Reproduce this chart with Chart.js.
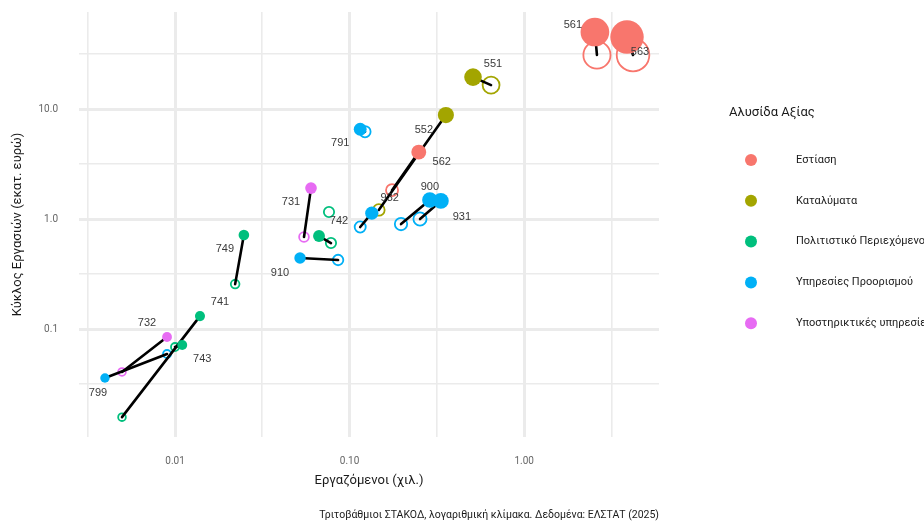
<!DOCTYPE html>
<html>
<head>
<meta charset="utf-8">
<script src="https://cdn.jsdelivr.net/npm/chart.js@4.4.1/dist/chart.umd.min.js"></script>
<style>
    html, body { margin: 0; padding: 0; background: #fff; }
    #wrap { width: 924px; height: 521px; position: relative; }
</style>
</head>
<body>
<div id="wrap"><canvas id="chart"></canvas></div>
<script>
// value chains (legend order) and their ggplot colours
const categories = ['Εστίαση', 'Καταλύματα', 'Πολιτιστικό Περιεχόμενο', 'Υπηρεσίες Προορισμού', 'Υποστηρικτικές υπηρεσίες'];
const categoryColors = ['#F8766D', '#A3A500', '#00BF7D', '#00B0F6', '#E76BF3'];

// 3-digit codes, one per pair of points ('' = point without a label)
const codes = ['561', '563', '551', '552', '562', '791', '932', '900', '931', '742', '', '731', '749', '910', '741', '732', '743', '799'];
const codeGroup = [0, 0, 1, 1, 0, 3, 3, 3, 3, 2, 2, 4, 2, 3, 2, 4, 2, 3];

// filled points (recent year): employees (thousands), turnover (million euro)
const employeesNew = [2.54, 3.88, 0.509, 0.356, 0.249, 0.115, 0.134, 0.288, 0.333, null, 0.0668, 0.0601, 0.0248, 0.052, 0.0139, 0.0090, 0.011, 0.00397];
const turnoverNew = [50.1, 45.1, 19.5, 8.81, 4.06, 6.54, 1.13, 1.49, 1.46, null, 0.70, 1.91, 0.716, 0.442, 0.131, 0.0846, 0.0716, 0.0359];
// open points (earlier year)
const employeesOld = [2.61, 4.20, 0.646, 0.147, 0.175, 0.1225, 0.115, 0.197, 0.253, 0.0762, 0.0782, 0.0548, 0.0221, 0.0859, 0.00497, 0.00497, 0.0100, 0.0090];
const turnoverOld = [31.0, 31.0, 16.5, 1.21, 1.83, 6.22, 0.846, 0.90, 1.0, 1.16, 0.605, 0.686, 0.256, 0.424, 0.0158, 0.0407, 0.0686, 0.0593];

// axis breaks
const xMajorTicks = [0.01, 0.1, 1];
const xTickLabels = ['0.01', '0.10', '1.00'];
const xMinorTicks = [0.00316, 0.0316, 0.316, 3.16];
const yMajorTicks = [0.1, 1, 10];
const yTickLabels = ['0.1', '1.0', '10.0'];
const yMinorTicks = [0.0316, 0.316, 3.16, 31.6];

// where each code label sits relative to its point (px), like ggrepel did
const labelNudge = {
    '561': [-22, -7], '563': [13, 15], '551': [20, -13], '552': [-22, 15], '562': [23, 10],
    '791': [-20, 14], '932': [18, -15], '900': [0, -13], '931': [21, 16], '742': [10, 9],
    '731': [-20, 14], '749': [-19, 14], '910': [-20, 15], '741': [20, -14], '732': [-20, -14],
    '743': [20, 14], '799': [-7, 15]
};

const THEME_FONT = 'Roboto, "Noto Sans", sans-serif';
const radiusFor = v => 4.3 + 6.3 * Math.sqrt(v);

const datasets = [];

categories.forEach((name, g) => {
    const filled = [];
    const open = [];
    codes.forEach((code, i) => {
        if (codeGroup[i] !== g) return;
        if (employeesNew[i] != null) filled.push({ x: employeesNew[i], y: turnoverNew[i], code: code });
        if (employeesOld[i] != null) open.push({ x: employeesOld[i], y: turnoverOld[i], code: code });
    });
    datasets.push({
        label: name,
        data: filled,
        order: 0,
        backgroundColor: categoryColors[g],
        borderColor: categoryColors[g],
        borderWidth: 0,
        pointRadius: ctx => radiusFor(ctx.raw.x)
    });
    datasets.push({
        label: name + ' (open)',
        data: open,
        order: 2,
        backgroundColor: 'rgba(0,0,0,0)',
        borderColor: categoryColors[g],
        borderWidth: 1.8,
        pointRadius: ctx => radiusFor(ctx.raw.x) - 0.9
    });
});

// black segments from earlier to recent point
codes.forEach((code, i) => {
    if (employeesNew[i] == null || employeesOld[i] == null) return;
    datasets.push({
        label: 'seg ' + code,
        data: [{ x: employeesOld[i], y: turnoverOld[i] }, { x: employeesNew[i], y: turnoverNew[i] }],
        order: 1,
        showLine: true,
        borderColor: '#000',
        borderWidth: 2.6,
        borderCapStyle: 'round',
        pointRadius: 0
    });
});

const textLayer = {
    id: 'textLayer',
    // code labels on top of the points
    afterDatasetsDraw(chart) {
        const ctx = chart.ctx;
        const xs = chart.scales.x;
        const ys = chart.scales.y;
        ctx.save();
        ctx.font = '11px "Liberation Sans", Arial, sans-serif';
        ctx.fillStyle = '#3a3a3a';
        ctx.textAlign = 'center';
        ctx.textBaseline = 'middle';
        codes.forEach((code, i) => {
            if (!code || !labelNudge[code]) return;
            const useNew = employeesNew[i] != null;
            const px = xs.getPixelForValue(useNew ? employeesNew[i] : employeesOld[i]);
            const py = ys.getPixelForValue(useNew ? turnoverNew[i] : turnoverOld[i]);
            ctx.fillText(code, px + labelNudge[code][0], py + labelNudge[code][1]);
        });
        ctx.restore();
    },
    afterDraw(chart) {
        const ctx = chart.ctx;
        const area = chart.chartArea;
        ctx.save();
        ctx.fillStyle = '#1a1a1a';
        ctx.textBaseline = 'middle';

        // axis titles
        ctx.font = '13px ' + THEME_FONT;
        ctx.textAlign = 'center';
        ctx.fillText('Εργαζόμενοι (χιλ.)', (area.left + area.right) / 2, 481);
        ctx.save();
        ctx.translate(18, (area.top + area.bottom) / 2);
        ctx.rotate(-Math.PI / 2);
        ctx.fillText('Κύκλος Εργασιών (εκατ. ευρώ)', 0, 0);
        ctx.restore();

        // caption
        ctx.font = '10.5px ' + THEME_FONT;
        ctx.textAlign = 'right';
        ctx.fillText('Τριτοβάθμιοι ΣΤΑΚΟΔ, λογαριθμική κλίμακα. Δεδομένα: ΕΛΣΤΑΤ (2025)', area.right, 515);

        // legend
        ctx.textAlign = 'left';
        ctx.font = '13px ' + THEME_FONT;
        ctx.fillText('Αλυσίδα Αξίας', 729, 113);
        ctx.font = '11px ' + THEME_FONT;
        categories.forEach((name, g) => {
            const y = 160 + g * 40.8;
            ctx.fillStyle = categoryColors[g];
            ctx.beginPath();
            ctx.arc(751, y, 6, 0, Math.PI * 2);
            ctx.fill();
            ctx.fillStyle = '#1a1a1a';
            ctx.fillText(name, 796, y);
        });
        ctx.restore();
    }
};

const gridWidth = (majors) => ctx => (ctx.tick && majors.includes(ctx.tick.value) ? 3 : 1.6);

new Chart(document.getElementById('chart'), {
    type: 'scatter',
    data: { datasets: datasets },
    options: {
        responsive: true,
        maintainAspectRatio: false,
        animation: false,
        events: [],
        layout: { autoPadding: false, padding: { top: 12, right: 265, bottom: 0, left: 0 } },
        plugins: {
            legend: { display: false },
            tooltip: { enabled: false }
        },
        scales: {
            x: {
                type: 'logarithmic',
                min: 0.002819,
                max: 5.916,
                afterBuildTicks: s => {
                    s.ticks = [...xMinorTicks, ...xMajorTicks].sort((a, b) => a - b).map(v => ({ value: v }));
                },
                afterFit: s => {
                    s.height = 84;
                    s.paddingLeft = 0;
                    s.paddingRight = 0;
                },
                grid: { color: '#EBEBEB', lineWidth: gridWidth(xMajorTicks), drawTicks: false },
                border: { display: false },
                ticks: {
                    autoSkip: false,
                    maxRotation: 0,
                    padding: 18,
                    color: '#666',
                    font: { family: THEME_FONT, size: 10 },
                    callback: v => {
                        const k = xMajorTicks.indexOf(v);
                        return k >= 0 ? xTickLabels[k] : '';
                    }
                }
            },
            y: {
                type: 'logarithmic',
                min: 0.01043,
                max: 76.2,
                afterBuildTicks: s => {
                    s.ticks = [...yMinorTicks, ...yMajorTicks].sort((a, b) => a - b).map(v => ({ value: v }));
                },
                afterFit: s => {
                    s.width = 79;
                    s.paddingTop = 0;
                    s.paddingBottom = 0;
                },
                grid: { color: '#EBEBEB', lineWidth: gridWidth(yMajorTicks), drawTicks: false },
                border: { display: false },
                ticks: {
                    autoSkip: false,
                    padding: 21,
                    color: '#666',
                    font: { family: THEME_FONT, size: 10 },
                    callback: v => {
                        const k = yMajorTicks.indexOf(v);
                        return k >= 0 ? yTickLabels[k] : '';
                    }
                }
            }
        }
    },
    plugins: [textLayer]
});
</script>
</body>
</html>
